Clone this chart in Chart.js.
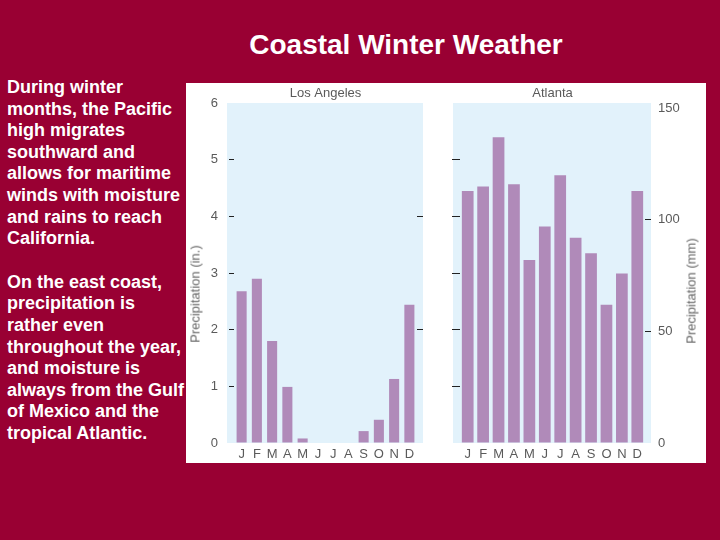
<!DOCTYPE html>
<html>
<head>
<meta charset="utf-8">
<script src="https://cdn.jsdelivr.net/npm/chart.js@4/dist/chart.umd.min.js"></script>
<style>
  html, body { margin: 0; padding: 0; }
  body { width: 720px; height: 540px; background: #990033; position: relative; overflow: hidden;
         font-family: "Liberation Sans", Arial, sans-serif; }
  #title { position: absolute; left: 0; width: 812px; top: 31px; line-height: 28px; text-align: center;
           color: #fff; font-size: 28px; font-weight: bold; }
  #notes { position: absolute; left: 7px; top: 77px; color: #fff; font-size: 18px; font-weight: bold;
           line-height: 21.6px; }
  #notes p { margin: 0 0 22px 0; white-space: nowrap; }
  #box { position: absolute; left: 186px; top: 83px; width: 520px; height: 380px; background: #fff; }
  canvas { position: absolute; top: 83px; }
  #laChart { left: 186px; }
  #atlChart { left: 452px; }
  .ytitle { position: absolute; font-size: 13px; font-weight: normal; color: #666; white-space: nowrap;
            transform: translate(-50%, -50%) rotate(-90deg); }
</style>
</head>
<body>
<div id="title">Coastal Winter Weather</div>
<div id="notes">
  <p>During winter<br>months, the Pacific<br>high migrates<br>southward and<br>allows for maritime<br>winds with moisture<br>and rains to reach<br>California.</p>
  <p>On the east coast,<br>precipitation is<br>rather even<br>throughout the year,<br>and moisture is<br>always from the Gulf<br>of Mexico and the<br>tropical Atlantic.</p>
</div>
<div id="box"></div>
<canvas id="laChart" width="237" height="380" style="width:237px;height:380px"></canvas>
<canvas id="atlChart" width="254" height="380" style="width:254px;height:380px"></canvas>
<div class="ytitle" style="left:195px;top:294px">Precipitation (in.)</div>
<div class="ytitle" style="left:691px;top:291px">Precipitation (mm)</div>

<script>
// --- data ---
const months = ["J", "F", "M", "A", "M", "J", "J", "A", "S", "O", "N", "D"];
const laInches = [2.68, 2.9, 1.8, 0.99, 0.08, 0, 0, 0, 0.21, 0.41, 1.13, 2.44];
const atlMm = [113, 115, 137, 116, 82, 97, 120, 92, 85, 62, 76, 113];
const inchTicks = [0, 1, 2, 3, 4, 5, 6];
const inchMarks = [1, 2, 3, 4, 5];
const laRightMarks = [2, 4];
const mmTicks = [0, 50, 100, 150];
const mmMarks = [50, 100];

const BAR = "#b08ab9";
const PANEL = "#e2f2fb";
const TXT = "#5a5a5a";
const FONT = "'Liberation Sans', Arial, sans-serif";

// light blue panel behind the bars, a bit wider than the plot area
const panelBg = {
  id: "panelBg",
  beforeDraw(chart, args, opts) {
    const a = chart.chartArea;
    const ctx = chart.ctx;
    ctx.save();
    ctx.fillStyle = PANEL;
    ctx.fillRect(a.left - opts.padLeft, a.top, a.right - a.left + opts.padLeft + opts.padRight, a.bottom - a.top);
    ctx.restore();
  },
};

function setTicks(list) {
  return (scale) => { scale.ticks = list.map((v) => ({ value: v })); };
}
function markColor(list) {
  return (ctx) => (ctx.tick && list.includes(ctx.tick.value) ? "#222" : "rgba(0,0,0,0)");
}

const xAxis = {
  grid: { display: false, drawTicks: false },
  border: { display: false },
  ticks: { color: TXT, font: { family: FONT, size: 13 }, padding: 4, autoSkip: false, maxRotation: 0, minRotation: 0 },
  afterFit: (s) => { s.height = 20; },
};

function titleOpts(text) {
  return {
    display: true,
    text,
    fullSize: false,
    color: TXT,
    font: { family: FONT, size: 13, weight: "normal", lineHeight: 1.2 },
    padding: { top: 3, bottom: 1.4 },
  };
}

// --- Los Angeles ---
new Chart(document.getElementById("laChart"), {
  type: "bar",
  data: {
    labels: months,
    datasets: [{ data: laInches, backgroundColor: BAR, barPercentage: 0.66, categoryPercentage: 1, yAxisID: "y" }],
  },
  options: {
    responsive: false,
    animation: false,
    layout: { padding: 0 },
    plugins: {
      legend: { display: false },
      tooltip: { enabled: false },
      title: titleOpts("Los Angeles"),
      panelBg: { padLeft: 7, padRight: 6 },
    },
    scales: {
      x: xAxis,
      y: {
        position: "left",
        min: 0,
        max: 6,
        afterBuildTicks: setTicks(inchTicks),
        grid: { drawOnChartArea: false, tickLength: 5, tickColor: markColor(inchMarks) },
        border: { display: false },
        ticks: { color: TXT, font: { family: FONT, size: 13 }, padding: 11 },
        afterFit: (s) => { s.width = 48; },
      },
      yR: {
        position: "right",
        min: 0,
        max: 6,
        afterBuildTicks: setTicks(laRightMarks),
        grid: { drawOnChartArea: false, tickLength: 6, tickColor: "#222" },
        border: { display: false },
        ticks: { display: false },
        afterFit: (s) => { s.width = 6; },
      },
    },
  },
  plugins: [panelBg],
});

// --- Atlanta ---
new Chart(document.getElementById("atlChart"), {
  type: "bar",
  data: {
    labels: months,
    datasets: [{ data: atlMm, backgroundColor: BAR, barPercentage: 0.76, categoryPercentage: 1, yAxisID: "y" }],
  },
  options: {
    responsive: false,
    animation: false,
    layout: { padding: 0 },
    plugins: {
      legend: { display: false },
      tooltip: { enabled: false },
      title: titleOpts("Atlanta"),
      panelBg: { padLeft: 7, padRight: 6 },
    },
    scales: {
      x: xAxis,
      yIn: {
        position: "left",
        min: 0,
        max: 6,
        afterBuildTicks: setTicks(inchMarks),
        grid: { drawOnChartArea: false, tickLength: 8, tickColor: "#222" },
        border: { display: false },
        ticks: { display: false },
        afterFit: (s) => { s.width = 8; },
      },
      y: {
        position: "right",
        min: 0,
        max: 152.4,
        afterBuildTicks: setTicks(mmTicks),
        grid: { drawOnChartArea: false, tickLength: 6, tickColor: markColor(mmMarks) },
        border: { display: false },
        ticks: { color: TXT, font: { family: FONT, size: 13 }, padding: 7 },
        afterFit: (s) => { s.width = 61; },
      },
    },
  },
  plugins: [panelBg],
});
</script>
</body>
</html>
